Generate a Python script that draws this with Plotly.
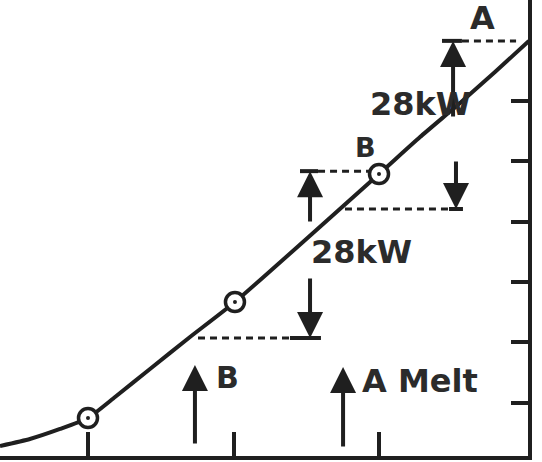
import plotly.graph_objects as go

# ---- data ----
hour_ticks = [1, 2, 3]
level_ticks = [1, 2, 3, 4, 5, 6]

curve_x = [0.395, 0.601, 0.808, 1.000, 1.186, 1.426, 1.701, 2.010, 3.000, 3.282, 3.557, 3.797, 4.030]
curve_y = [0.282, 0.398, 0.564, 0.746, 1.095, 1.559, 2.090, 2.670, 4.793, 5.406, 5.970, 6.484, 6.998]

point_x = [1.000, 2.010, 3.000, 4.030]
point_y = [0.746, 2.670, 4.793, 6.998]

# dashed reference levels
dash_level = [7.000, 4.840, 4.212, 2.073]
dash_start = [3.570, 2.581, 2.766, 1.756]
dash_end = [3.942, 2.938, 3.481, 2.388]
cap_start = [3.433, 2.457, 3.481, 2.388]
cap_end = [3.570, 2.581, 3.577, 2.601]

# arrows: x, tail y, tip y
arrow_x = [3.509, 2.526, 3.529, 2.526, 1.735, 2.753]
arrow_tail = [5.721, 3.980, 5.025, 3.085, 0.299, 0.249]
arrow_tip = [7.000, 4.840, 4.212, 2.073, 1.625, 1.592]

label_text = ["A", "28kW", "B", "28kW", "B", "A Melt"]
label_x = [3.708, 3.282, 2.904, 2.883, 1.962, 3.282]
label_y = [7.380, 5.954, 5.240, 3.499, 1.410, 1.360]
label_size = [32, 32, 27, 32, 30, 32]

INK = "#1f1f1f"
TXT = "#2b2b2b"

fig = go.Figure()
fig.add_trace(go.Scatter(
    x=curve_x, y=curve_y, mode="lines",
    line=dict(color=INK, width=4, shape="spline", smoothing=0.5),
    cliponaxis=False, hoverinfo="skip", showlegend=False))
fig.add_trace(go.Scatter(
    x=point_x, y=point_y, mode="markers",
    marker=dict(size=19, color="white", line=dict(color=INK, width=3.5)),
    cliponaxis=False, hoverinfo="skip", showlegend=False))
fig.add_trace(go.Scatter(
    x=point_x, y=point_y, mode="markers",
    marker=dict(size=4, color=INK),
    cliponaxis=False, hoverinfo="skip", showlegend=False))

shapes = []
for lv, s, e in zip(dash_level, dash_start, dash_end):
    shapes.append(dict(type="line", xref="x", yref="y", x0=s, x1=e, y0=lv, y1=lv,
                       line=dict(color=INK, width=3, dash="7px,5px")))
for lv, s, e in zip(dash_level, cap_start, cap_end):
    shapes.append(dict(type="line", xref="x", yref="y", x0=s, x1=e, y0=lv, y1=lv,
                       line=dict(color=INK, width=4)))

annotations = []
for ax_, t0, t1 in zip(arrow_x, arrow_tail, arrow_tip):
    annotations.append(dict(x=ax_, y=t1, ax=ax_, ay=t0, xref="x", yref="y",
                            axref="x", ayref="y", text="", showarrow=True,
                            arrowhead=2, arrowsize=1.3, arrowwidth=4,
                            arrowcolor=INK, standoff=0))
for t, x, y, s in zip(label_text, label_x, label_y, label_size):
    annotations.append(dict(x=x, y=y, xref="x", yref="y", text=t, showarrow=False,
                            xanchor="center", yanchor="middle",
                            font=dict(family="DejaVu Sans", size=s, color=TXT, weight="bold")))

fig.update_layout(
    width=542, height=462,
    margin=dict(l=0, r=14, t=0, b=6),
    paper_bgcolor="white", plot_bgcolor="white",
    shapes=shapes, annotations=annotations,
    xaxis=dict(range=[0.3952, 4.024], showgrid=False, zeroline=False,
               showline=True, linewidth=4, linecolor=INK,
               ticks="inside", tickvals=hour_ticks, ticklen=24, tickwidth=4,
               tickcolor=INK, showticklabels=False, fixedrange=True),
    yaxis=dict(range=[0.116, 7.678], side="right", showgrid=False, zeroline=False,
               showline=True, linewidth=4, linecolor=INK,
               ticks="inside", tickvals=level_ticks, ticklen=17, tickwidth=4,
               tickcolor=INK, showticklabels=False, fixedrange=True),
)

fig.write_html("out.html",
               config={"displayModeBar": False, "staticPlot": True},
               post_script="document.body.style.margin='0';document.body.style.overflow='hidden';")
